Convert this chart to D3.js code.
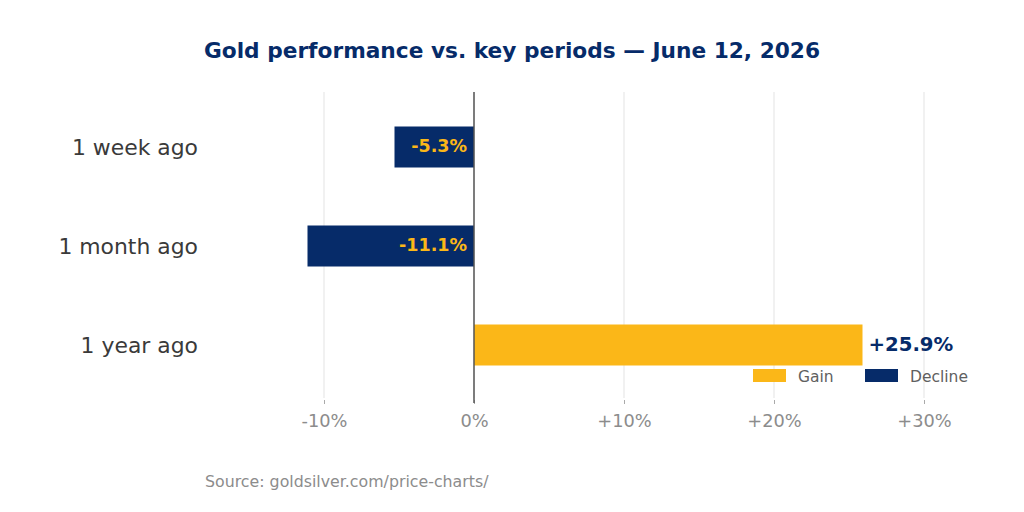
<!DOCTYPE html>
<html><head><meta charset="utf-8">
<script src="https://cdn.jsdelivr.net/npm/d3@7"></script>
<style>body{margin:0;background:#fff}svg{display:block;font-family:"DejaVu Sans",sans-serif}</style>
</head><body><svg id="c" width="1024" height="512"></svg>
<script>
const categories = ["1 week ago", "1 month ago", "1 year ago"];
const values = [-5.3, -11.1, 25.9];
const tickValues = [-10, 0, 10, 20, 30];
const tickLabels = ["-10%", "0%", "+10%", "+20%", "+30%"];
const legendLabels = ["Gain", "Decline"];

(function () {
const GOLD = "#FBB718", NAVY = "#062B69";
const svg = d3.select("#c");
const x = d3.scaleLinear().domain([-18, 33]).range([204, 969]);
const y = d3.scalePoint().domain(categories).range([147, 345]);
const barH = 41, plotTop = 92, plotBottom = 398;

// grid
svg.append("g").selectAll("line").data(tickValues).join("line")
  .attr("x1", d => x(d)).attr("x2", d => x(d)).attr("y1", plotTop).attr("y2", plotBottom)
  .attr("stroke", "#e3e3e3").attr("stroke-width", 1);
// x axis ticks
const ax = d3.axisBottom(x).tickValues(tickValues).tickSize(4).tickPadding(10)
  .tickFormat((d, i) => tickLabels[i]);
const gx = svg.append("g").attr("transform", `translate(0,${plotBottom + 2})`).call(ax);
gx.select(".domain").remove();
gx.selectAll(".tick line").attr("stroke", "#aaa");
gx.selectAll(".tick text").attr("fill", "#8c8c8c").attr("font-size", 17.8)
  .attr("font-family", "DejaVu Sans");

// bars
svg.append("g").selectAll("rect").data(values).join("rect")
  .attr("x", d => x(Math.min(0, d))).attr("width", d => Math.abs(x(d) - x(0)))
  .attr("y", (d, i) => y(categories[i]) - barH / 2).attr("height", barH)
  .attr("fill", d => d >= 0 ? GOLD : NAVY);

// zero line
svg.append("line").attr("x1", x(0)).attr("x2", x(0)).attr("y1", plotTop).attr("y2", plotBottom + 5)
  .attr("stroke", "#555").attr("stroke-width", 1.5);

// value labels
svg.append("g").selectAll("text").data(values).join("text")
  .attr("x", d => d >= 0 ? x(d) + 6 : x(0) - 7)
  .attr("y", (d, i) => y(categories[i]))
  .attr("dy", "0.3em")
  .attr("text-anchor", d => d >= 0 ? "start" : "end")
  .attr("font-weight", "bold")
  .attr("font-size", d => d >= 0 ? 19.7 : 17.5)
  .attr("fill", d => d >= 0 ? NAVY : GOLD)
  .text(d => (d >= 0 ? "+" : "") + d.toFixed(1) + "%");

// category labels
svg.append("g").selectAll("text").data(categories).join("text")
  .attr("x", 198).attr("y", d => y(d)).attr("dy", "0.36em")
  .attr("text-anchor", "end").attr("font-size", 21.9).attr("fill", "#3a3a3a")
  .text(d => d);

// title
svg.append("text").attr("x", 512).attr("y", 58).attr("text-anchor", "middle")
  .attr("font-size", 21.7).attr("font-weight", "bold").attr("fill", NAVY)
  .text("Gold performance vs. key periods — June 12, 2026");

// legend
const lg = svg.append("g");
const legX = [753, 865], legC = [GOLD, NAVY];
legendLabels.forEach((l, i) => {
  lg.append("rect").attr("x", legX[i]).attr("y", 369).attr("width", 33).attr("height", 13).attr("fill", legC[i]);
  lg.append("text").attr("x", legX[i] + 45).attr("y", 376).attr("dy", "0.36em")
    .attr("font-size", 15.5).attr("fill", "#606060").text(l);
});

// source
svg.append("text").attr("x", 205).attr("y", 481).attr("dy", "0.36em")
  .attr("font-size", 15.8).attr("fill", "#8c8c8c").text("Source: goldsilver.com/price-charts/");
})();
</script></body></html>
